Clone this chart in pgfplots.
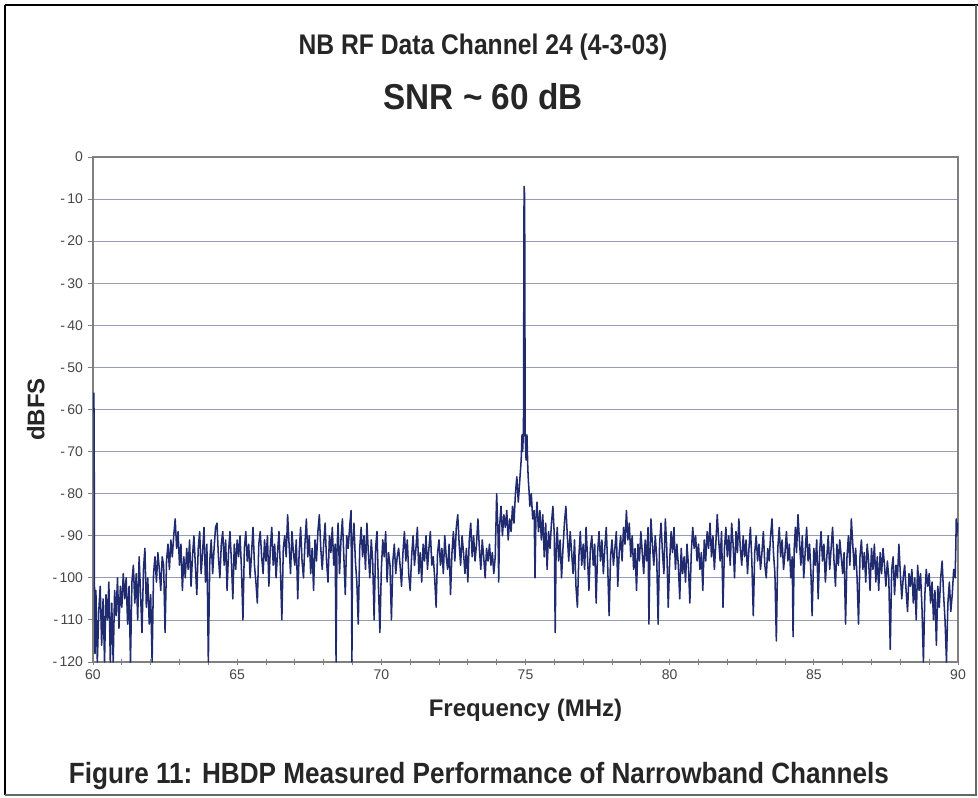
\documentclass[border=0pt]{standalone}
\usepackage{pgfplots}
\pgfplotsset{compat=1.18}
\usepackage{fontspec}
\setmainfont{Liberation Sans}

\definecolor{trace}{RGB}{32,42,110}
\definecolor{gridc}{RGB}{150,158,182}
\definecolor{axisc}{RGB}{128,128,128}
\definecolor{tickc}{RGB}{70,70,70}

\begin{document}
\begin{tikzpicture}[x=0.75pt,y=-0.75pt]
  \useasboundingbox (0,0) rectangle (978,798);
  \fill[white] (0,0) rectangle (978,798);
  % outer frame
  \draw[black, line width=2.2pt] (5,5) -- (978,5);
  \draw[black, line width=1.6pt] (5,5) -- (5,795);
  \draw[black!60, line width=0.8pt] (5,795) -- (976,795) -- (976,5);

  \node[font=\bfseries\fontsize{18.5}{20}\selectfont, text=black!85] at (483,47) {\scalebox{1}[1.15]{NB RF Data Channel 24 (4-3-03)}};
  \node[font=\bfseries\fontsize{25}{28}\selectfont, text=black!85] at (483,97) {\scalebox{1}[1.08]{SNR \textasciitilde\ 60 dB}};
  \node[font=\bfseries\fontsize{19.6}{22}\selectfont, text=black!85] at (479,776) {\scalebox{1}[1.12]{Figure 11: HBDP Measured Performance of Narrowband Channels}};

  \begin{axis}[
      at={(69.75pt,-496.5pt)}, anchor=south west,
      scale only axis, width=648.75pt, height=378.75pt,
      xmin=60, xmax=90, ymin=-120, ymax=0,
      xtick={60,65,...,90}, minor x tick num=4,
      ytick={-120,-110,...,0},
      yticklabels={-\,120,-\,110,-\,100,-\,90,-\,80,-\,70,-\,60,-\,50,-\,40,-\,30,-\,20,-\,10,0},
      ymajorgrids, grid style={gridc, line width=0.6pt},
      axis line style={axisc, line width=0.8pt},
      tick style={axisc, line width=0.7pt},
      major tick length=4pt, minor tick length=4pt,
      xtick align=center, ytick align=outside,
      xtick pos=bottom, ytick pos=left,
      tick label style={font=\fontsize{10.5}{12}\selectfont, text=tickc},
      /pgf/number format/assume math mode=true,
      xlabel={Frequency (MHz)}, ylabel={dBFS},
      xlabel style={font=\bfseries\fontsize{18}{20}\selectfont, text=black!85, at={(axis description cs:0.5,-0.095)}, anchor=center},
      ylabel style={font=\bfseries\fontsize{18}{20}\selectfont, text=black!85, at={(axis description cs:-0.066,0.5)}, anchor=center},
    ]
    \addplot[trace, line width=1.15pt, line join=round] coordinates {
      (60.03,-56)(60.04,-65)(60.05,-101)(60.07,-118)(60.10,-103)(60.15,-120)(60.20,-108)(60.25,-102)(60.30,-116)(60.35,-105)
      (60.40,-120)(60.45,-104)(60.50,-110)(60.55,-101)(60.60,-120)(60.65,-106)(60.70,-120)(60.75,-103)(60.80,-109)(60.85,-100)(60.90,-112)(60.95,-102)
      (61.00,-107)(61.05,-99)(61.10,-105)(61.15,-100)(61.20,-111)(61.25,-102)(61.30,-120)(61.35,-101)(61.40,-97)(61.45,-106)
      (61.50,-99)(61.55,-110)(61.60,-95)(61.65,-104)(61.70,-113)(61.75,-98)(61.80,-93)(61.85,-107)(61.90,-100)(61.95,-111)
      (62.00,-104)(62.05,-120)(62.10,-99)(62.15,-95)(62.20,-101)(62.25,-94)(62.30,-98)(62.35,-103)(62.40,-95)(62.45,-97)
      (62.50,-113)(62.55,-96)(62.60,-92)(62.65,-98)(62.70,-91)(62.75,-95)(62.80,-90)(62.85,-86)(62.90,-93)(62.95,-89)
      (63.00,-97)(63.05,-92)(63.10,-103)(63.15,-95)(63.20,-100)(63.25,-93)(63.30,-98)(63.35,-91)(63.40,-102)(63.45,-95)
      (63.50,-90)(63.55,-97)(63.60,-104)(63.65,-93)(63.70,-89)(63.75,-99)(63.80,-94)(63.85,-88)(63.90,-101)(63.95,-92)
      (64.00,-120)(64.05,-96)(64.10,-91)(64.15,-99)(64.20,-93)(64.25,-88)(64.30,-87)(64.35,-95)(64.40,-100)(64.45,-92)
      (64.50,-89)(64.55,-97)(64.60,-91)(64.65,-103)(64.70,-94)(64.75,-89)(64.80,-96)(64.85,-105)(64.90,-92)(64.95,-98)
      (65.00,-91)(65.05,-95)(65.10,-90)(65.15,-98)(65.20,-110)(65.25,-93)(65.30,-89)(65.35,-96)(65.40,-92)(65.45,-100)
      (65.50,-94)(65.55,-88)(65.60,-97)(65.65,-101)(65.70,-106)(65.75,-92)(65.80,-89)(65.85,-95)(65.90,-99)(65.95,-91)
      (66.00,-96)(66.05,-90)(66.10,-102)(66.15,-93)(66.20,-88)(66.25,-97)(66.30,-92)(66.35,-100)(66.40,-94)(66.45,-89)
      (66.50,-98)(66.55,-110)(66.60,-93)(66.65,-90)(66.70,-95)(66.75,-85)(66.80,-92)(66.85,-99)(66.90,-89)(66.95,-94)
      (67.00,-97)(67.05,-91)(67.10,-105)(67.15,-94)(67.20,-88)(67.25,-96)(67.30,-100)(67.35,-92)(67.40,-86)(67.45,-95)
      (67.50,-90)(67.55,-99)(67.60,-93)(67.65,-103)(67.70,-91)(67.75,-96)(67.80,-89)(67.85,-85)(67.90,-93)(67.95,-98)
      (68.00,-92)(68.05,-87)(68.10,-96)(68.15,-101)(68.20,-90)(68.25,-94)(68.30,-88)(68.35,-97)(68.40,-92)(68.43,-120)
      (68.46,-94)(68.50,-87)(68.55,-99)(68.60,-91)(68.65,-86)(68.70,-95)(68.75,-104)(68.80,-90)(68.85,-93)(68.90,-88)(68.95,-84)(68.98,-120)
      (69.00,-92)(69.05,-87)(69.10,-96)(69.15,-101)(69.20,-111)(69.25,-93)(69.30,-88)(69.35,-95)(69.40,-90)(69.45,-98)
      (69.50,-87)(69.55,-94)(69.60,-100)(69.65,-91)(69.70,-96)(69.75,-110)(69.80,-93)(69.85,-89)(69.90,-102)(69.95,-113)
      (70.00,-98)(70.05,-91)(70.10,-95)(70.15,-89)(70.20,-101)(70.25,-94)(70.30,-97)(70.35,-110)(70.40,-96)(70.45,-92)
      (70.50,-99)(70.55,-95)(70.60,-93)(70.65,-97)(70.70,-102)(70.75,-94)(70.80,-89)(70.85,-96)(70.90,-91)(70.95,-99)
      (71.00,-103)(71.05,-95)(71.10,-90)(71.15,-97)(71.20,-93)(71.25,-88)(71.30,-99)(71.35,-94)(71.40,-101)(71.45,-92)
      (71.50,-96)(71.55,-90)(71.60,-98)(71.65,-93)(71.70,-89)(71.75,-97)(71.80,-95)(71.85,-100)(71.90,-107)(71.95,-94)
      (72.00,-91)(72.05,-97)(72.10,-93)(72.15,-99)(72.20,-90)(72.25,-95)(72.30,-98)(72.35,-92)(72.40,-104)(72.45,-94)
      (72.50,-89)(72.55,-96)(72.60,-88)(72.65,-85)(72.70,-92)(72.75,-97)(72.80,-90)(72.85,-94)(72.90,-99)(72.95,-93)
      (73.00,-101)(73.05,-91)(73.10,-87)(73.15,-95)(73.20,-90)(73.25,-96)(73.30,-92)(73.35,-86)(73.40,-93)(73.45,-98)
      (73.50,-91)(73.55,-95)(73.60,-100)(73.65,-93)(73.70,-96)(73.75,-92)(73.80,-97)(73.85,-94)(73.90,-99)(73.95,-95)
      (74.00,-80)(74.05,-90)(74.07,-101)(74.10,-88)(74.15,-83)(74.20,-90)(74.25,-85)(74.30,-88)(74.35,-84)(74.40,-91)
      (74.45,-86)(74.50,-89)(74.55,-83)(74.60,-87)(74.65,-80)(74.70,-76)(74.75,-82)(74.80,-77)(74.85,-72)(74.88,-66)
      (74.90,-70)(74.93,-65)(74.95,-7)(74.97,-9)(74.99,-66)(75.02,-72)(75.05,-66)(75.08,-74)(75.10,-77)
      (75.12,-79)(75.15,-83)(75.20,-80)(75.25,-86)(75.30,-84)(75.33,-100)(75.36,-86)(75.40,-82)(75.45,-89)(75.50,-84)
      (75.55,-91)(75.60,-85)(75.65,-95)(75.70,-87)(75.75,-98)(75.80,-89)(75.85,-93)(75.90,-87)(75.95,-83)(76.00,-90)
      (76.03,-113)(76.06,-94)(76.10,-88)(76.15,-96)(76.20,-91)(76.25,-100)(76.30,-93)(76.35,-87)(76.40,-83)(76.45,-90)
      (76.50,-96)(76.55,-89)(76.60,-94)(76.65,-99)(76.70,-91)(76.75,-102)(76.80,-107)(76.85,-95)(76.90,-89)(76.95,-97)
      (77.00,-92)(77.05,-98)(77.10,-88)(77.15,-95)(77.20,-103)(77.25,-93)(77.30,-90)(77.35,-97)(77.40,-92)(77.45,-106)
      (77.50,-94)(77.55,-89)(77.60,-96)(77.65,-91)(77.70,-99)(77.75,-93)(77.80,-88)(77.85,-97)(77.90,-109)(77.95,-95)
      (78.00,-91)(78.05,-97)(78.10,-93)(78.15,-89)(78.20,-102)(78.25,-94)(78.30,-90)(78.35,-96)(78.40,-88)(78.45,-92)
      (78.50,-84)(78.55,-91)(78.60,-87)(78.65,-95)(78.70,-90)(78.75,-98)(78.80,-93)(78.85,-103)(78.90,-92)(78.95,-96)
      (79.00,-89)(79.05,-94)(79.10,-99)(79.15,-91)(79.20,-96)(79.25,-88)(79.28,-111)(79.32,-93)(79.35,-86)(79.40,-92)
      (79.45,-97)(79.50,-90)(79.55,-95)(79.60,-111)(79.65,-92)(79.70,-87)(79.75,-94)(79.80,-99)(79.85,-86)(79.90,-93)(79.95,-107)
      (80.00,-96)(80.05,-89)(80.10,-94)(80.15,-88)(80.20,-98)(80.25,-92)(80.30,-97)(80.35,-105)(80.40,-93)(80.45,-99)
      (80.50,-95)(80.55,-101)(80.60,-92)(80.65,-97)(80.70,-106)(80.75,-94)(80.80,-88)(80.85,-93)(80.90,-90)(80.95,-96)
      (81.00,-92)(81.05,-98)(81.10,-94)(81.15,-103)(81.20,-91)(81.25,-96)(81.30,-89)(81.35,-93)(81.40,-87)(81.45,-95)
      (81.50,-90)(81.55,-98)(81.60,-92)(81.65,-85)(81.70,-91)(81.75,-96)(81.80,-89)(81.85,-107)(81.90,-93)(81.95,-88)
      (82.00,-95)(82.05,-90)(82.10,-97)(82.15,-87)(82.20,-92)(82.25,-100)(82.30,-89)(82.35,-94)(82.40,-86)(82.45,-93)
      (82.50,-97)(82.55,-90)(82.60,-95)(82.65,-91)(82.70,-99)(82.75,-93)(82.80,-88)(82.85,-96)(82.90,-109)(82.95,-94)
      (83.00,-90)(83.05,-96)(83.10,-92)(83.15,-98)(83.20,-94)(83.25,-89)(83.30,-97)(83.35,-100)(83.40,-93)(83.45,-96)
      (83.50,-90)(83.55,-86)(83.60,-94)(83.65,-99)(83.70,-115)(83.75,-93)(83.80,-88)(83.85,-95)(83.90,-91)(83.95,-98)
      (84.00,-94)(84.05,-89)(84.10,-96)(84.15,-92)(84.20,-100)(84.25,-95)(84.28,-114)(84.32,-93)(84.36,-88)(84.40,-94)
      (84.45,-85)(84.50,-91)(84.55,-97)(84.60,-90)(84.65,-100)(84.70,-94)(84.75,-88)(84.80,-96)(84.85,-92)(84.90,-99)(84.94,-109)
      (85.00,-93)(85.05,-97)(85.10,-91)(85.15,-105)(85.20,-94)(85.25,-89)(85.30,-96)(85.35,-92)(85.40,-101)(85.45,-95)
      (85.50,-90)(85.55,-98)(85.60,-93)(85.65,-88)(85.70,-96)(85.75,-102)(85.80,-92)(85.85,-97)(85.90,-91)(85.95,-95)
      (86.00,-99)(86.05,-94)(86.10,-111)(86.15,-95)(86.20,-90)(86.25,-97)(86.30,-86)(86.35,-92)(86.40,-98)(86.45,-93)
      (86.50,-100)(86.55,-111)(86.60,-95)(86.65,-91)(86.70,-98)(86.75,-94)(86.80,-101)(86.85,-92)(86.90,-96)(86.95,-103)
      (87.00,-93)(87.05,-98)(87.10,-92)(87.15,-101)(87.20,-95)(87.25,-103)(87.30,-94)(87.35,-99)(87.40,-93)(87.45,-97)
      (87.50,-102)(87.55,-96)(87.60,-100)(87.65,-117)(87.70,-98)(87.75,-95)(87.80,-104)(87.85,-97)(87.90,-100)(87.95,-92)
      (88.00,-99)(88.05,-105)(88.10,-100)(88.15,-97)(88.20,-103)(88.25,-108)(88.30,-99)(88.35,-102)(88.40,-98)(88.45,-106)
      (88.50,-100)(88.55,-110)(88.60,-97)(88.65,-103)(88.70,-99)(88.75,-107)(88.80,-120)(88.85,-104)(88.90,-98)(88.95,-102)
      (89.00,-99)(89.05,-106)(89.10,-101)(89.15,-110)(89.20,-103)(89.25,-116)(89.30,-102)(89.35,-107)(89.40,-100)(89.45,-96)
      (89.50,-104)(89.55,-110)(89.60,-120)(89.65,-106)(89.70,-101)(89.75,-108)(89.80,-104)(89.85,-98)(89.90,-100)
      (89.92,-94)(89.94,-86)(89.96,-90)(89.98,-87)(90.00,-89)
    };
  \end{axis}
\end{tikzpicture}
\end{document}
